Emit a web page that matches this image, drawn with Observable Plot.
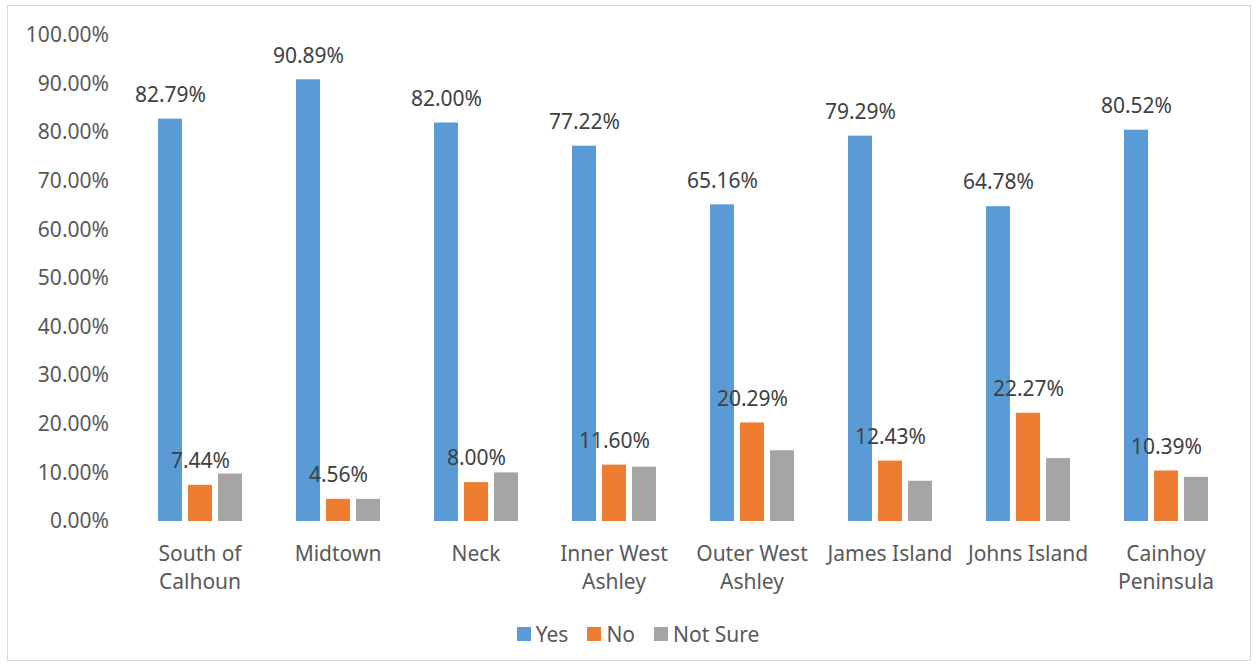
<!DOCTYPE html>
<html><head><meta charset="utf-8">
<script src="https://cdn.jsdelivr.net/npm/d3@7"></script>
<script src="https://cdn.jsdelivr.net/npm/@observablehq/plot@0.6"></script>
<style>
body{margin:0;background:#fff;width:1260px;height:671px;overflow:hidden;position:relative;font-family:"Noto Sans",sans-serif;}
#frame{position:absolute;left:7px;top:5px;width:1244px;height:656px;border:1px solid #d9d9d9;box-sizing:border-box;}
#chart{position:absolute;left:0;top:0;}
#legend{position:absolute;top:620px;left:8px;width:1260px;height:28px;display:flex;justify-content:center;align-items:center;font-size:21px;color:#595959;}
.item{display:flex;align-items:center;margin:0 9.5px;}
.sw{width:14px;height:14px;margin-right:5px;}
</style></head>
<body>
<div id="frame"></div>
<div id="chart"></div>
<div id="legend"></div>
<script>
const categories = ["South of Calhoun","Midtown","Neck","Inner West Ashley","Outer West Ashley","James Island","Johns Island","Cainhoy Peninsula"];
const categoryLabels = ["South of\nCalhoun","Midtown","Neck","Inner West\nAshley","Outer West\nAshley","James Island","Johns Island","Cainhoy\nPeninsula"];
const series = ["Yes","No","Not Sure"];
const colors = ["#5b9bd5","#ed7d31","#a5a5a5"];
const yesValues = [82.79,90.89,82.00,77.22,65.16,79.29,64.78,80.52];
const noValues = [7.44,4.56,8.00,11.60,20.29,12.43,22.27,10.39];
const notSureValues = [9.77,4.55,10.00,11.18,14.55,8.28,12.95,9.09];
const yTicks = [0,10,20,30,40,50,60,70,80,90,100];

const valuesBySeries = [yesValues, noValues, notSureValues];
const data = [];
series.forEach((s, si) => categories.forEach((c, ci) => data.push({category: c, series: s, value: valuesBySeries[si][ci], labeled: si < 2})));

const fmt = d => d.toFixed(2) + "%";
const labelOf = Object.fromEntries(categories.map((c, i) => [c, categoryLabels[i]]));

const chart = Plot.plot({
  width: 1260,
  height: 610,
  marginLeft: 130,
  marginRight: 25,
  marginTop: 35,
  marginBottom: 89,
  style: {fontFamily: '"Noto Sans", sans-serif', fontSize: "21px", color: "#595959", background: "transparent"},
  fx: {domain: categories, paddingInner: 0.384, paddingOuter: 0.192, label: null},
  x: {domain: series, paddingInner: 0.21, paddingOuter: 0, axis: null},
  y: {domain: [0, 100], label: null},
  color: {domain: series, range: colors},
  marks: [
    Plot.gridY(yTicks, {stroke: "#d9d9d9", strokeOpacity: 1, strokeWidth: 1.3, facetAnchor: null, x1: 130, x2: 1235}),
    Plot.axisY(yTicks, {tickSize: 0, tickPadding: 48.5, tickFormat: fmt, fontSize: 21, fill: "#595959", label: null}),
    Plot.axisFx({anchor: "bottom", tickSize: 0, tickPadding: 20, tickFormat: c => labelOf[c], fontSize: 21, lineHeight: 1.333, fill: "#595959", label: null}),
    Plot.barY(data, {fx: "category", x: "series", y: "value", fill: "series"}),
    Plot.text(data.filter(d => d.labeled), {fx: "category", x: "series", y: "value", text: d => fmt(d.value), dy: -24, fontSize: 21, fill: "#404040"})
  ]
});
document.getElementById("chart").appendChild(chart);

const legend = document.getElementById("legend");
series.forEach((s, i) => {
  const it = document.createElement("div"); it.className = "item";
  const sw = document.createElement("div"); sw.className = "sw"; sw.style.background = colors[i];
  const t = document.createElement("span"); t.textContent = s;
  it.appendChild(sw); it.appendChild(t); legend.appendChild(it);
});
</script>
</body></html>
